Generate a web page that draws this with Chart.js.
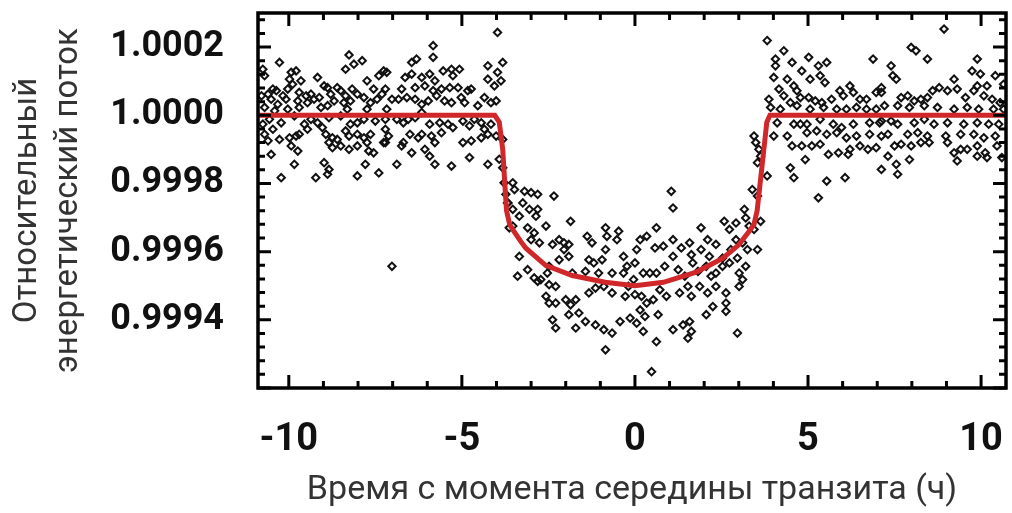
<!DOCTYPE html>
<html>
<head>
<meta charset="utf-8">
<script src="https://cdn.jsdelivr.net/npm/chart.js@4.4.1/dist/chart.umd.min.js"></script>
<style>
  html, body { margin: 0; padding: 0; background: #fff; }
  #lc { display: block; }
</style>
</head>
<body>
<canvas id="lc" width="1012" height="513"></canvas>
<script>
const obsTime = [
  // before transit
  -10.27,-8.26,-8.36,-8.12,-7.88,-9.93,-9.79,-9.17,-9.98,-9.65,
  -9.89,-8.98,-8.88,-10.75,-10.70,-10.46,-10.36,-10.60,-10.17,-10.03,
  -9.70,-9.50,-9.36,-8.60,-8.50,-8.36,-8.17,-8.02,-7.74,-7.55,
  -7.40,-7.26,-10.79,-10.51,-10.32,-10.08,-9.74,-9.46,-9.27,-9.12,
  -8.79,-8.69,-8.41,-8.22,-7.83,-7.64,-7.45,-7.31,-10.70,-10.41,
  -10.03,-9.70,-9.07,-8.88,-8.31,-7.74,-10.56,-10.22,-9.84,-9.55,
  -9.36,-9.17,-8.84,-8.50,-8.22,-8.02,-7.83,-7.50,-7.21,-10.75,
  -10.46,-10.27,-9.98,-9.79,-9.70,-9.46,-9.03,-8.93,-8.74,-8.60,
  -8.36,-8.26,-8.02,-7.83,-7.64,-10.60,-10.70,-9.93,-9.74,-8.84,
  -8.74,-8.50,-8.26,-8.02,-7.74,-7.69,-7.55,-10.51,-9.84,-8.98,
  -8.84,-8.88,-9.22,-10.22,-8.02,-7.79,-7.40,-7.26,-7.21,
  -3.97,-5.83,-5.83,-6.45,-6.31,-7.17,-6.64,-6.45,-6.16,-5.93,
  -5.78,-5.54,-5.30,-5.07,-5.26,-4.25,-3.97,-3.82,-4.25,-4.06,
  -3.87,-7.21,-6.74,-6.35,-6.07,-5.83,-5.59,-5.35,-5.11,-4.83,
  -4.73,-4.35,-4.16,-4.01,-7.02,-6.83,-6.59,-6.35,-6.16,-5.97,
  -5.73,-5.50,-5.30,-5.02,-4.92,-4.54,-7.17,-6.88,-6.69,-6.55,
  -6.35,-6.16,-5.93,-5.64,-5.40,-5.26,-4.97,-4.78,-4.64,-4.44,
  -4.35,-4.16,-7.12,-7.21,-6.69,-6.50,-6.26,-6.16,-5.88,-5.78,
  -5.59,-4.97,-4.73,-4.44,-4.25,-4.01,-3.82,-6.74,-6.45,-6.07,
  -5.93,-5.78,-5.30,-4.78,-4.25,-6.88,-3.92,-3.82,-3.78,-3.73,
  -3.68,-3.63,-7.02,
  // in transit, first half
  -3.53,-3.48,-3.67,-3.53,
  -3.19,-3.00,-2.81,-2.34,-3.24,-3.05,-2.81,-2.86,-3.34,-3.53,
  -3.10,-2.91,-2.57,-1.86,-3.00,-2.76,-2.19,-2.05,-1.91,-2.38,
  -1.38,-1.24,-0.85,-0.81,-0.47,-0.52,-3.34,-3.39,-3.10,-2.91,
  -2.81,-2.72,-2.53,-2.48,-2.19,-2.05,-1.91,-1.33,-1.19,-0.95,
  -0.85,-0.33,-0.23,-0.33,-0.66,-1.05,-1.43,-1.81,-2.48,-2.29,
  -2.57,-2.48,-2.29,-2.00,-1.86,-1.71,-1.33,-1.14,-0.90,-0.66,
  -0.28,-0.19,-1.91,-1.62,-1.43,-2.38,-2.29,-1.71,-1.14,-0.90,
  -0.66,-0.43,-0.14,-0.85,
  // in transit, second half
  1.05,1.10,0.62,1.10,1.91,2.58,2.73,2.92,3.16,3.20,
  0.15,0.34,0.05,0.00,0.58,0.82,1.10,1.34,1.58,1.63,
  1.91,2.10,2.15,2.34,2.53,2.77,2.92,2.96,3.11,3.25,
  -0.04,0.24,0.43,0.62,0.86,1.25,1.44,1.67,1.82,2.06,
  2.20,2.34,2.53,2.73,3.01,3.20,3.11,0.00,0.19,0.34,
  0.53,0.72,0.91,1.29,1.53,1.63,1.87,2.10,2.34,2.63,
  2.63,3.01,0.15,0.29,0.67,0.05,0.24,0.62,1.10,1.39,
  1.58,1.63,1.53,2.06,2.25,2.63,2.96,0.48,3.44,3.49,
  3.54,3.39,3.54,3.44,3.30,
  // after transit
  3.82,4.30,4.06,4.06,4.54,5.02,5.30,5.54,4.82,4.40,
  4.01,5.35,5.49,5.06,4.59,4.68,4.16,3.87,4.30,4.49,
  4.78,5.02,5.21,5.40,5.68,5.92,6.21,6.31,6.02,6.50,
  6.69,6.88,6.97,7.12,3.92,4.20,4.68,5.06,5.45,5.83,
  6.11,6.40,6.69,6.97,4.11,4.59,4.78,4.97,5.35,5.73,
  5.97,6.31,6.78,7.07,4.01,4.40,4.97,5.25,5.54,5.83,
  6.11,6.40,6.78,7.12,4.54,4.82,5.11,5.35,5.59,5.88,
  6.21,6.50,6.73,6.97,4.92,6.16,4.49,4.59,5.54,6.07,
  5.30,3.63,3.82,3.63,3.54,3.58,
  8.93,7.98,8.12,8.45,7.40,7.45,7.55,9.89,9.74,9.98,
  9.89,10.17,10.41,10.65,9.22,8.79,8.60,9.03,9.31,7.12,
  7.69,7.88,8.07,8.26,8.45,9.55,9.79,10.08,10.32,10.55,
  7.21,7.59,7.93,8.36,8.74,9.22,9.60,9.93,10.36,10.65,
  7.12,7.40,7.59,8.07,8.36,8.64,9.03,9.50,9.89,10.22,
  10.51,7.31,7.88,8.17,8.45,8.98,9.41,9.79,10.08,10.41,
  7.50,7.69,7.98,8.26,8.50,9.03,9.22,9.41,9.60,9.89,
  10.12,10.46,7.31,7.93,9.31,9.89,10.17,10.60,7.12,7.55,
  7.59
];
const obsFlux = [
  // before transit
  1.000155,1.000177,1.000135,1.000150,1.000160,1.000126,1.000130,1.000111,1.000106,1.000101,
  1.000091,1.000086,1.000081,1.000135,1.000116,1.000077,1.000072,1.000062,1.000057,1.000077,
  1.000067,1.000057,1.000062,1.000081,1.000072,1.000057,1.000077,1.000062,1.000101,1.000077,
  1.000116,1.000130,1.000057,1.000047,1.000032,1.000047,1.000042,1.000037,1.000047,1.000052,
  1.000062,1.000042,1.000037,1.000042,1.000052,1.000037,1.000047,1.000062,1.000023,1.000013,
  1.000018,1.000023,1.000023,1.000028,1.000018,1.000018,0.999988,0.999978,0.999998,0.999974,
  0.999988,0.999978,0.999993,0.999998,0.999974,0.999978,0.999988,0.999983,0.999988,0.999974,
  0.999959,0.999929,0.999934,0.999939,0.999944,0.999959,0.999964,0.999944,0.999934,0.999929,
  0.999954,0.999939,0.999944,0.999934,0.999944,0.999925,0.999944,0.999910,0.999895,0.999920,
  0.999905,0.999910,0.999900,0.999910,0.999920,0.999895,0.999890,0.999885,0.999856,0.999861,
  0.999841,0.999827,0.999817,0.999817,0.999822,0.999856,0.999831,0.999920,0.999959,
  1.000243,1.000204,1.000170,1.000155,1.000165,1.000126,1.000111,1.000121,1.000111,1.000121,
  1.000101,1.000130,1.000135,1.000135,1.000116,1.000145,1.000126,1.000155,1.000106,1.000086,
  1.000101,1.000077,1.000077,1.000081,1.000086,1.000072,1.000077,1.000081,1.000081,1.000072,
  1.000077,1.000052,1.000037,1.000042,1.000047,1.000047,1.000052,1.000047,1.000032,1.000042,
  1.000057,1.000042,1.000037,1.000052,1.000037,1.000028,1.000018,0.999988,0.999978,0.999988,
  0.999993,1.000008,0.999974,0.999978,0.999974,0.999964,0.999983,0.999969,0.999988,0.999978,
  0.999959,0.999974,0.999939,0.999920,0.999920,0.999944,0.999934,0.999944,0.999939,0.999920,
  0.999949,0.999920,0.999925,0.999934,0.999944,0.999939,0.999929,0.999910,0.999890,0.999900,
  0.999880,0.999856,0.999851,0.999876,0.999856,0.999856,0.999871,0.999846,0.999802,0.999768,
  0.999743,0.999670,0.999557,
  // in transit, first half
  0.999802,0.999782,0.999743,0.999724,
  0.999777,0.999773,0.999768,0.999763,0.999743,0.999724,0.999724,0.999704,0.999704,0.999675,
  0.999670,0.999655,0.999675,0.999689,0.999635,0.999626,0.999635,0.999626,0.999621,0.999621,
  0.999645,0.999626,0.999670,0.999645,0.999660,0.999635,0.999586,0.999528,0.999547,0.999523,
  0.999513,0.999518,0.999537,0.999557,0.999576,0.999606,0.999586,0.999576,0.999567,0.999576,
  0.999606,0.999586,0.999557,0.999537,0.999537,0.999537,0.999542,0.999537,0.999503,0.999498,
  0.999469,0.999449,0.999449,0.999459,0.999444,0.999459,0.999479,0.999493,0.999498,0.999479,
  0.999469,0.999498,0.999415,0.999420,0.999395,0.999400,0.999376,0.999376,0.999385,0.999371,
  0.999361,0.999395,0.999405,0.999312,
  // in transit, second half
  0.999777,0.999728,0.999670,0.999635,0.999670,0.999689,0.999665,0.999684,0.999724,0.999699,
  0.999635,0.999645,0.999606,0.999567,0.999611,0.999616,0.999586,0.999611,0.999626,0.999591,
  0.999606,0.999635,0.999586,0.999621,0.999581,0.999606,0.999635,0.999581,0.999626,0.999606,
  0.999518,0.999537,0.999537,0.999537,0.999557,0.999547,0.999528,0.999567,0.999542,0.999557,
  0.999528,0.999537,0.999557,0.999567,0.999537,0.999557,0.999518,0.999474,0.999469,0.999449,
  0.999459,0.999488,0.999469,0.999479,0.999498,0.999469,0.999498,0.999479,0.999498,0.999479,
  0.999449,0.999498,0.999429,0.999410,0.999415,0.999390,0.999366,0.999336,0.999371,0.999385,
  0.999395,0.999366,0.999346,0.999415,0.999439,0.999425,0.999361,0.999248,0.999939,0.999920,
  0.999861,0.999782,0.999763,0.999665,0.999675,
  // after transit
  1.000219,1.000189,1.000165,1.000145,1.000155,1.000170,1.000145,1.000155,1.000130,1.000106,
  1.000111,1.000116,1.000096,1.000106,1.000086,1.000072,1.000077,1.000047,1.000057,1.000037,
  1.000052,1.000052,1.000042,1.000037,1.000047,1.000072,1.000086,1.000067,1.000057,1.000047,
  1.000047,1.000165,1.000067,1.000067,1.000023,1.000018,1.000028,1.000018,1.000023,1.000018,
  1.000018,1.000023,1.000018,1.000018,0.999978,0.999974,0.999974,0.999974,0.999988,0.999974,
  0.999964,0.999974,0.999978,0.999978,0.999939,0.999939,0.999949,0.999954,0.999944,0.999949,
  0.999934,0.999939,0.999944,0.999939,0.999910,0.999910,0.999910,0.999915,0.999885,0.999890,
  0.999900,0.999910,0.999900,0.999905,0.999870,0.999885,0.999846,0.999817,0.999807,0.999817,
  0.999758,0.999880,0.999822,0.999689,0.999606,0.999900,
  1.000253,1.000199,1.000189,1.000165,1.000145,1.000116,1.000106,1.000165,1.000130,1.000121,
  1.000086,1.000086,1.000116,1.000091,1.000106,1.000081,1.000072,1.000072,1.000077,1.000081,
  1.000052,1.000057,1.000042,1.000047,1.000052,1.000052,1.000072,1.000057,1.000047,1.000037,
  1.000028,1.000028,1.000023,1.000028,1.000023,1.000018,1.000023,1.000018,1.000018,1.000018,
  0.999983,0.999983,0.999974,0.999978,0.999988,0.999974,0.999978,0.999974,0.999978,0.999974,
  0.999974,0.999944,0.999944,0.999949,0.999939,0.999939,0.999944,0.999944,0.999934,0.999939,
  0.999910,0.999915,0.999910,0.999920,0.999920,0.999920,0.999890,0.999900,0.999900,0.999910,
  0.999890,0.999910,0.999880,0.999870,0.999866,0.999880,0.999876,0.999876,0.999841,0.999856,
  0.999827
];

// fitted transit model (red curve)
const modelTime = [-10.9, -4.05, -3.92, -3.82, -3.76, -3.71, -3.62, -3.5, -3.3, -3.15, -2.58, -1.81, -0.86, 0,
                   0.82, 1.77, 2.53, 3.0, 3.3, 3.44, 3.53, 3.67, 3.81, 3.9, 10.8];
const modelFlux = [1.0, 1.0, 0.99998, 0.9999, 0.9998, 0.99972, 0.99968, 0.99966, 0.99963, 0.99961, 0.99956, 0.99953, 0.99951, 0.9995,
                   0.99951, 0.99954, 0.99958, 0.99962, 0.99966, 0.99968, 0.99972, 0.99985, 0.99998, 1.0, 1.0];

const xTicks = [-10, -5, 0, 5, 10];
const yTicks = [0.9994, 0.9996, 0.9998, 1.0000, 1.0002];

var obsPoints = [];
for (var i = 0; i < Math.min(obsTime.length, obsFlux.length); i++) {
    obsPoints.push({ x: obsTime[i], y: obsFlux[i] });
}
var modelPoints = modelTime.map(function (t, i) { return { x: t, y: modelFlux[i] }; });

// box with inward ticks on all four sides
var frameTicks = {
    id: 'frameTicks',
    afterDatasetsDraw: function (chart) {
        var ctx = chart.ctx, a = chart.chartArea;
        var xs = chart.scales.x, ys = chart.scales.y;
        ctx.save();
        ctx.strokeStyle = '#000';
        ctx.lineWidth = 3;
        ctx.beginPath();
        for (var v = -10; v <= 10; v++) {
            var px = xs.getPixelForValue(v);
            var len = (v % 5 === 0) ? 13 : 7;
            ctx.moveTo(px, a.bottom); ctx.lineTo(px, a.bottom - len);
            ctx.moveTo(px, a.top); ctx.lineTo(px, a.top + len);
        }
        for (var k = 0; k <= 27; k++) {
            var val = 0.9992 + k * 0.00004;
            var py = ys.getPixelForValue(val);
            var l2 = (k % 5 === 0) ? 13 : 7;
            ctx.moveTo(a.left, py); ctx.lineTo(a.left + l2, py);
            ctx.moveTo(a.right, py); ctx.lineTo(a.right - l2, py);
        }
        ctx.stroke();
        ctx.lineWidth = 3.5;
        ctx.strokeRect(a.left, a.top, a.right - a.left, a.bottom - a.top);
        ctx.restore();
    }
};

// no extra room for labels at the ends of the axes
var noEdgePadding = function (s) {
    s.paddingTop = 0; s.paddingBottom = 0; s.paddingLeft = 0; s.paddingRight = 0;
};

var ctx = document.getElementById('lc').getContext('2d');
var lightCurve = new Chart(ctx, {
    type: 'scatter',
    data: {
        datasets: [{
            type: 'line',
            data: modelPoints,
            borderColor: '#cf272a',
            borderWidth: 5,
            pointRadius: 0,
            tension: 0,
            fill: false,
            order: 0
        }, {
            data: obsPoints,
            pointStyle: 'rectRot',
            pointRadius: 3.7,
            borderColor: '#111',
            borderWidth: 2,
            backgroundColor: 'rgba(255,255,255,0)',
            order: 1
        }]
    },
    options: {
        responsive: false,
        animation: false,
        devicePixelRatio: 1,
        layout: { padding: { top: 13, right: -3, left: 0, bottom: 0 } },
        plugins: { legend: { display: false }, tooltip: { enabled: false } },
        scales: {
            x: {
                type: 'linear',
                min: -10.89,
                max: 10.72,
                grid: { display: false },
                border: { display: false },
                afterBuildTicks: function (s) { s.ticks = xTicks.map(function (v) { return { value: v }; }); },
                afterFit: function (s) { s.height = 125; noEdgePadding(s); },
                ticks: {
                    color: '#111',
                    font: { family: 'Roboto', size: 38, weight: 'bold' },
                    padding: 22,
                    maxRotation: 0,
                    callback: function (v) { return String(v); }
                },
                title: {
                    display: true,
                    text: 'Время с момента середины транзита (ч)',
                    color: '#333',
                    font: { family: 'Roboto', size: 34 },
                    padding: { top: 0, bottom: 2 }
                }
            },
            y: {
                min: 0.9992,
                max: 1.0003,
                grid: { display: false },
                border: { display: false },
                afterBuildTicks: function (s) { s.ticks = yTicks.map(function (v) { return { value: v }; }); },
                afterFit: function (s) { s.width = 258; noEdgePadding(s); },
                ticks: {
                    color: '#111',
                    font: { family: 'Roboto', size: 36, weight: 'bold' },
                    padding: 26,
                    callback: function (v) { return v.toFixed(4); }
                },
                title: {
                    display: true,
                    text: ['Относительный', 'энергетический поток'],
                    color: '#333',
                    font: { family: 'Roboto', size: 33, lineHeight: 1.22 },
                    padding: { top: 8, bottom: 0 }
                }
            }
        }
    },
    plugins: [frameTicks]
});
</script>
</body>
</html>
